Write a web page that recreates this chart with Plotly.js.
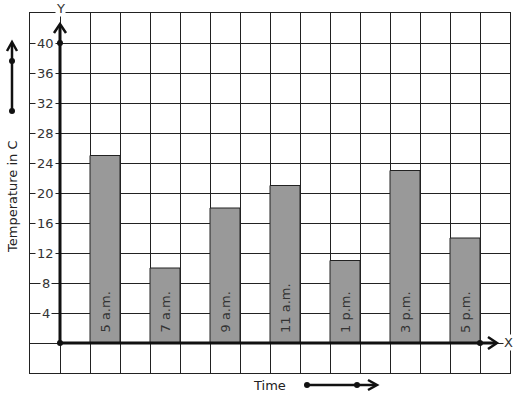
<!DOCTYPE html>
<html>
<head>
<meta charset="utf-8">
<script src="https://cdn.plot.ly/plotly-3.0.1.min.js"></script>
<style>
  html, body { margin: 0; padding: 0; background: #fff; }
  #chart { width: 517px; height: 399px; }
</style>
</head>
<body>
<div id="chart"></div>
<script>
// ---- data ----
const times = ['5 a.m.', '7 a.m.', '9 a.m.', '11 a.m.', '1 p.m.', '3 p.m.', '5 p.m.'];
const temperatures = [25, 10, 18, 21, 11, 23, 14];
const yTickValues = [4, 8, 12, 16, 20, 24, 28, 32, 36, 40];

// ---- layout helpers (pixel -> paper) ----
const W = 517, H = 399;
const M = { l: 30, r: 7, t: 13, b: 26 };
const PW = W - M.l - M.r, PH = H - M.t - M.b;
const PX = px => (px - M.l) / PW;
const PY = py => (H - M.b - py) / PH;

const ink = '#111';
const lineShape = (x0, y0, x1, y1, w) => ({
  type: 'line', xref: 'paper', yref: 'paper',
  x0: PX(x0), y0: PY(y0), x1: PX(x1), y1: PY(y1),
  line: { color: ink, width: w }, layer: 'above'
});
const pathShape = (pts, w) => ({
  type: 'path', xref: 'paper', yref: 'paper',
  path: pts.map((p, i) => (i ? 'L' : 'M') + PX(p[0]) + ',' + PY(p[1])).join(' '),
  line: { color: ink, width: w }, layer: 'above'
});
const dot = (x, y, r) => ({
  type: 'circle', xref: 'paper', yref: 'paper',
  xsizemode: 'pixel', ysizemode: 'pixel',
  xanchor: PX(x), yanchor: PY(y),
  x0: -r, x1: r, y0: -r, y1: r,
  fillcolor: ink, line: { color: ink, width: 0 }, layer: 'above'
});

const xCenters = times.map((_, i) => 1.5 + 2 * i);

const trace = {
  type: 'bar',
  x: xCenters,
  y: temperatures,
  width: 1,
  marker: { color: '#999999', line: { color: '#222', width: 1 } },
  hoverinfo: 'skip'
};

const font13 = { family: 'DejaVu Sans', size: 13, color: '#333' };

const annotations = yTickValues.map(v => ({
  x: -0.47, y: v, xref: 'x', yref: 'y', xanchor: 'center', yanchor: 'middle',
  text: String(v), showarrow: false,
  font: font13, bgcolor: '#fff', borderpad: 1
}));
times.forEach((t, i) => annotations.push({
  x: xCenters[i], y: 0, xref: 'x', yref: 'y', xanchor: 'center', yanchor: 'bottom',
  yshift: 8, text: t, showarrow: false, textangle: -90,
  font: { family: 'DejaVu Sans', size: 13, color: '#333' }
}));
annotations.push(
  { xref: 'paper', yref: 'paper', x: PX(60), y: PY(8), xanchor: 'center', yanchor: 'middle',
    text: 'Y', showarrow: false, font: font13, bgcolor: '#fff', borderpad: 0 },
  { xref: 'paper', yref: 'paper', x: PX(508), y: PY(342), xanchor: 'center', yanchor: 'middle',
    text: 'X', showarrow: false, font: font13, bgcolor: '#fff', borderpad: 0 },
  { xref: 'paper', yref: 'paper', x: PX(12), y: PY(197), xanchor: 'center', yanchor: 'middle',
    text: 'Temperature in C', showarrow: false, textangle: -90,
    font: { family: 'DejaVu Sans', size: 13, color: '#222' } },
  { xref: 'paper', yref: 'paper', x: PX(269), y: PY(385), xanchor: 'center', yanchor: 'middle',
    text: 'Time', showarrow: false,
    font: { family: 'DejaVu Sans', size: 13, color: '#222' } }
);

const shapes = [
  // axes
  lineShape(60, 343, 60, 25, 3),
  pathShape([[54, 33], [60, 24], [66, 33]], 2.5),
  lineShape(60, 343, 496, 343, 3),
  pathShape([[488, 337], [497, 343], [488, 349]], 2.5),
  dot(60, 343, 3), dot(60, 43, 3), dot(480, 343, 3),
  // y title arrow
  lineShape(12, 111, 12, 43, 2.5),
  pathShape([[7, 51], [12, 42], [17, 51]], 2.5),
  dot(12, 111, 3), dot(12, 61, 3),
  // x title arrow
  lineShape(307, 385, 376, 385, 2.5),
  pathShape([[368, 380], [377, 385], [368, 390]], 2.5),
  dot(307, 385, 3), dot(357, 385, 3)
];

const layout = {
  width: W, height: H,
  margin: M,
  paper_bgcolor: '#fff', plot_bgcolor: '#fff',
  showlegend: false,
  bargap: 0,
  xaxis: {
    range: [-1, 15], dtick: 1, tick0: 0,
    showgrid: true, gridcolor: '#222', gridwidth: 1,
    zeroline: false, showticklabels: false, ticks: '',
    showline: true, linecolor: '#222', linewidth: 1, mirror: true,
    fixedrange: true
  },
  yaxis: {
    range: [-4, 44], dtick: 4, tick0: 0,
    showgrid: true, gridcolor: '#222', gridwidth: 1,
    zeroline: false, showticklabels: false, ticks: '',
    showline: true, linecolor: '#222', linewidth: 1, mirror: true,
    fixedrange: true
  },
  shapes: shapes,
  annotations: annotations,
  font: { family: 'DejaVu Sans', color: '#333' }
};

Plotly.newPlot('chart', [trace], layout, { displayModeBar: false, staticPlot: true });
</script>
</body>
</html>
